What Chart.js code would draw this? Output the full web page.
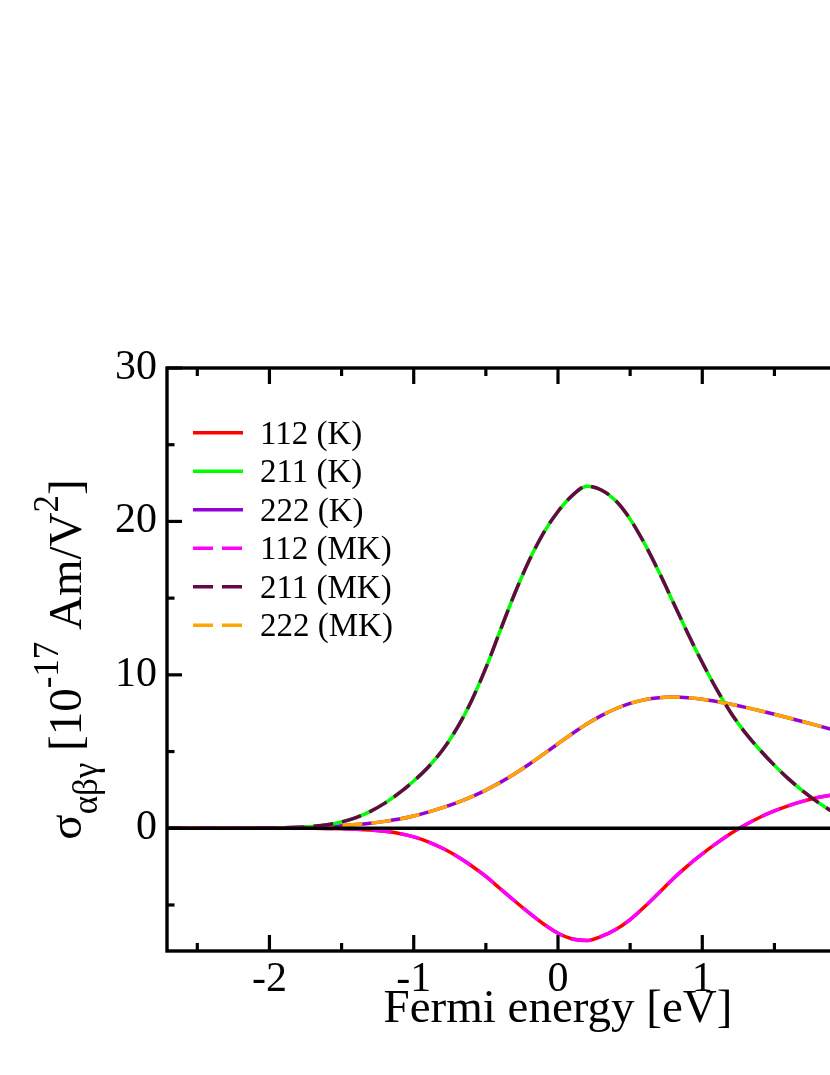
<!DOCTYPE html>
<html><head><meta charset="utf-8">
<script src="https://cdn.jsdelivr.net/npm/chart.js@4.4.0/dist/chart.umd.min.js"></script>
<style>html,body{margin:0;padding:0;overflow:hidden;background:#fff;width:830px;height:1075px}canvas{display:block}</style>
</head><body>
<canvas id="c" width="980" height="1075"></canvas>
<script>
// ---- data ----
const energy = [-2.7,-2.6,-2.5,-2.4,-2.3,-2.2,-2.1,-2.0,-1.9,-1.8,-1.7,-1.6,-1.5,-1.4,-1.3,-1.2,-1.1,-1.0,-0.9,-0.8,-0.7,-0.6,-0.5,-0.4,-0.3,-0.2,-0.1,0.0,0.1,0.2,0.3,0.4,0.5,0.6,0.7,0.8,0.9,1.0,1.1,1.2,1.3,1.4,1.5,1.6,1.7,1.8,1.9,2.0];
const s112K = [0,0,0,0,0,0,0,0,0,-0.002,-0.006,-0.015,-0.03,-0.06,-0.11,-0.2,-0.34,-0.56,-0.88,-1.3,-1.82,-2.44,-3.14,-3.94,-4.74,-5.52,-6.24,-6.84,-7.22,-7.32,-7.05,-6.6,-5.95,-5.12,-4.2,-3.27,-2.43,-1.67,-0.97,-0.33,0.23,0.72,1.13,1.48,1.77,2.0,2.17,2.29];
const s211K = [0,0,0,0,0,0.005,0.01,0.015,0.03,0.06,0.12,0.23,0.41,0.69,1.1,1.64,2.3,3.08,3.98,5.1,6.52,8.3,10.45,12.9,15.3,17.45,19.25,20.65,21.7,22.3,22.05,21.35,20.15,18.55,16.7,14.7,12.7,10.8,9.05,7.5,6.2,5.1,4.1,3.2,2.4,1.7,1.1,0.65];
const s222K = [0,0,0,0,0,0.01,0.01,0.02,0.03,0.05,0.08,0.12,0.17,0.24,0.33,0.45,0.6,0.8,1.05,1.34,1.67,2.05,2.49,2.99,3.55,4.17,4.83,5.51,6.18,6.8,7.34,7.79,8.14,8.38,8.51,8.55,8.51,8.41,8.26,8.08,7.88,7.66,7.43,7.19,6.94,6.69,6.44,6.19];
// MK results coincide with the K results in the picture
const s112MK = [0,0,0,0,0,0,0,0,0,-0.002,-0.006,-0.015,-0.03,-0.06,-0.11,-0.2,-0.34,-0.56,-0.88,-1.3,-1.82,-2.44,-3.14,-3.94,-4.74,-5.52,-6.24,-6.84,-7.22,-7.32,-7.05,-6.6,-5.95,-5.12,-4.2,-3.27,-2.43,-1.67,-0.97,-0.33,0.23,0.72,1.13,1.48,1.77,2.0,2.17,2.29];
const s211MK = [0,0,0,0,0,0.005,0.01,0.015,0.03,0.06,0.12,0.23,0.41,0.69,1.1,1.64,2.3,3.08,3.98,5.1,6.52,8.3,10.45,12.9,15.3,17.45,19.25,20.65,21.7,22.3,22.05,21.35,20.15,18.55,16.7,14.7,12.7,10.8,9.05,7.5,6.2,5.1,4.1,3.2,2.4,1.7,1.1,0.65];
const s222MK = [0,0,0,0,0,0.01,0.01,0.02,0.03,0.05,0.08,0.12,0.17,0.24,0.33,0.45,0.6,0.8,1.05,1.34,1.67,2.05,2.49,2.99,3.55,4.17,4.83,5.51,6.18,6.8,7.34,7.79,8.14,8.38,8.51,8.55,8.51,8.41,8.26,8.08,7.88,7.66,7.43,7.19,6.94,6.69,6.44,6.19];
const seriesNames = ['112 (K)','211 (K)','222 (K)','112 (MK)','211 (MK)','222 (MK)'];
const xMajorTicks = [-2,-1,0,1,2];
const xMinorTicks = [-2.5,-1.5,-0.5,0.5,1.5,2.5];
const yMajorTicks = [0,10,20,30];
const yMinorTicks = [-5,5,15,25];
const xTitle = 'Fermi energy [eV]';

const FONT = '"Liberation Serif", "Times New Roman", serif';
const seriesData = [s112K, s211K, s222K, s112MK, s211MK, s222MK];
const seriesColors = ['#ff0000','#00ff00','#9400d3','#ff00ff','#670748','#ffa500'];
const DASH = [20, 9];

const datasets = seriesData.map((arr, i) => ({
  label: seriesNames[i],
  data: energy.map((e, k) => ({x: e, y: arr[k]})),
  borderColor: seriesColors[i],
  backgroundColor: seriesColors[i],
  borderWidth: 3.5,
  borderDash: i >= 3 ? DASH : [],
  pointRadius: 0,
  fill: false,
  cubicInterpolationMode: 'monotone',
  order: i >= 3 ? 1 : 2
}));

const framePlugin = {
  id: 'frame',
  afterDatasetsDraw(chart) {
    const {ctx, chartArea: a, scales: {x, y}} = chart;
    ctx.save();
    ctx.strokeStyle = '#000';
    ctx.setLineDash([]);
    const seg = (x1, y1, x2, y2) => { ctx.beginPath(); ctx.moveTo(x1, y1); ctx.lineTo(x2, y2); ctx.stroke(); };
    ctx.lineWidth = 3.3;
    const y0 = y.getPixelForValue(0);
    seg(a.left, y0, a.right, y0);
    ctx.lineWidth = 3.2;
    xMajorTicks.forEach(v => { const p = x.getPixelForValue(v); seg(p, a.bottom, p, a.bottom - 16); seg(p, a.top, p, a.top + 16); });
    xMinorTicks.forEach(v => { const p = x.getPixelForValue(v); seg(p, a.bottom, p, a.bottom - 8); seg(p, a.top, p, a.top + 8); });
    yMajorTicks.forEach(v => { const p = y.getPixelForValue(v); seg(a.left, p, a.left + 15, p); seg(a.right, p, a.right - 15, p); });
    yMinorTicks.forEach(v => { const p = y.getPixelForValue(v); seg(a.left, p, a.left + 7.5, p); seg(a.right, p, a.right - 7.5, p); });
    ctx.lineWidth = 3.4;
    ctx.strokeRect(a.left, a.top, a.right - a.left, a.bottom - a.top);
    ctx.restore();
  }
};

const legendPlugin = {
  id: 'insideLegend',
  afterDraw(chart) {
    const {ctx, chartArea: a} = chart;
    ctx.save();
    ctx.font = '33px ' + FONT;
    ctx.fillStyle = '#000';
    ctx.textBaseline = 'alphabetic';
    chart.data.datasets.forEach((ds, i) => {
      const cy = a.top + 64.7 + i * 38.5;
      ctx.strokeStyle = ds.borderColor;
      ctx.lineWidth = 3.5;
      ctx.setLineDash(ds.borderDash || []);
      ctx.beginPath(); ctx.moveTo(a.left + 26, cy); ctx.lineTo(a.left + 76, cy); ctx.stroke();
      ctx.setLineDash([]);
      ctx.fillText(ds.label, a.left + 93, cy + 10.8);
    });
    ctx.restore();
  }
};

const titlesPlugin = {
  id: 'axisTitles',
  afterDraw(chart) {
    const {ctx, chartArea: a} = chart;
    ctx.save();
    ctx.fillStyle = '#000';
    // x title
    ctx.font = '47px ' + FONT;
    ctx.textAlign = 'center';
    ctx.textBaseline = 'alphabetic';
    ctx.fillText(xTitle, (a.left + a.right) / 2, a.bottom + 71);
    // y title with sub/superscripts
    ctx.textAlign = 'left';
    const parts = [
      {t: 'σ', f: 47, dy: 0},
      {t: 'αβγ', f: 35, dy: 16},
      {t: ' [10', f: 47, dy: 0},
      {t: '-17', f: 35, dy: -23},
      {t: ' Am/V', f: 47, dy: 0},
      {t: '2', f: 35, dy: -23},
      {t: ']', f: 47, dy: 0}
    ];
    let total = 0;
    parts.forEach(p => { ctx.font = p.f + 'px ' + FONT; p.w = ctx.measureText(p.t).width; total += p.w; });
    ctx.translate(81, (a.top + a.bottom) / 2);
    ctx.rotate(-Math.PI / 2);
    let xx = -total / 2;
    parts.forEach(p => { ctx.font = p.f + 'px ' + FONT; ctx.fillText(p.t, xx, p.dy); xx += p.w; });
    ctx.restore();
  }
};

new Chart(document.getElementById('c'), {
  type: 'line',
  data: { datasets },
  options: {
    responsive: false,
    animation: false,
    devicePixelRatio: 1,
    layout: { padding: { left: 0, top: 368, right: 31, bottom: 0 } },
    plugins: { legend: { display: false }, tooltip: { enabled: false } },
    scales: {
      x: {
        type: 'linear', min: -2.71, max: 2.71,
        grid: { display: false, drawTicks: false },
        border: { display: false },
        afterBuildTicks: s => { s.ticks = xMajorTicks.map(v => ({value: v})); },
        afterFit: s => { s.height = 124; },
        ticks: { autoSkip: false, maxRotation: 0, padding: 4, color: '#000', font: { family: FONT, size: 42 }, callback: v => String(v) }
      },
      y: {
        type: 'linear', min: -8, max: 30,
        grid: { display: false, drawTicks: false },
        border: { display: false },
        afterBuildTicks: s => { s.ticks = yMajorTicks.map(v => ({value: v})); },
        afterFit: s => { s.width = 167; },
        ticks: { autoSkip: false, padding: 10, color: '#000', font: { family: FONT, size: 42 }, callback: v => String(v) }
      }
    }
  },
  plugins: [framePlugin, legendPlugin, titlesPlugin]
});
</script>
</body></html>
